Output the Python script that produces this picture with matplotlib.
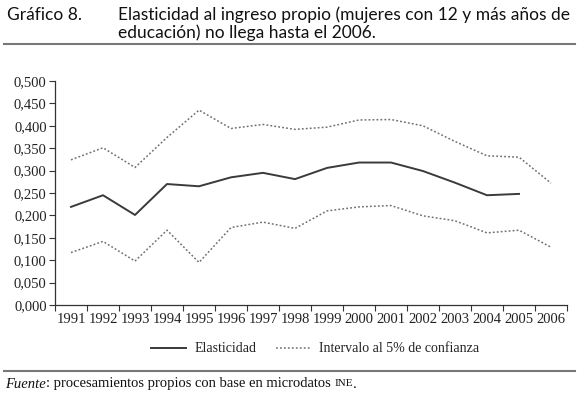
import numpy as np
import matplotlib
matplotlib.use("Agg")
import matplotlib.pyplot as plt
from matplotlib.lines import Line2D
from matplotlib.ticker import FixedLocator, FuncFormatter

years = [str(y) for y in range(1991, 2007)]
elasticidad = [0.219, 0.245, 0.201, 0.270, 0.265, 0.285, 0.295, 0.281,
               0.306, 0.318, 0.318, 0.299, 0.273, 0.245, 0.248, None]
superior = [0.324, 0.351, 0.307, 0.374, 0.435, 0.394, 0.403, 0.392,
            0.397, 0.413, 0.414, 0.400, 0.365, 0.333, 0.330, 0.272]
inferior = [0.117, 0.142, 0.098, 0.167, 0.095, 0.173, 0.185, 0.171,
            0.210, 0.219, 0.222, 0.199, 0.188, 0.161, 0.167, 0.129]

serif = "Liberation Serif"
sans = "Lato"

fig = plt.figure(figsize=(5.79, 3.96), dpi=100)
ax = fig.add_axes([55 / 579, 1 - 305 / 396, 512 / 579, 224 / 396])

x = np.arange(len(years))
elas = np.array([np.nan if v is None else v for v in elasticidad])
ax.plot(x, elas, color="#3a3a3a", lw=1.4, label="Elasticidad")
ax.plot(x, superior, color="#707070", lw=1.1, ls=(0, (1.2, 1.4)),
        label="Intervalo al 5% de confianza")
ax.plot(x, inferior, color="#707070", lw=1.1, ls=(0, (1.2, 1.4)))

ax.set_xlim(-0.5, len(years) - 0.5)
ax.set_ylim(0, 0.5)
ax.xaxis.set_major_locator(FixedLocator(np.arange(-0.5, len(years), 1.0)))
ax.xaxis.set_major_formatter(FuncFormatter(lambda v, p: ""))
ax.xaxis.set_minor_locator(FixedLocator(x))
ax.set_xticklabels(years, minor=True)
ax.tick_params(axis="x", which="major", length=4, width=0.8, color="#333333", direction="out")
ax.tick_params(axis="x", which="minor", length=0, pad=6, labelsize=10.5)
ax.set_yticks(np.arange(0, 0.501, 0.05))
ax.yaxis.set_major_formatter(FuncFormatter(lambda v, p: f"{v:.3f}".replace(".", ",")))
ax.tick_params(axis="y", length=4, width=0.8, color="#333333", labelsize=10.5, pad=2)
for lab in ax.get_xticklabels(minor=True) + ax.get_yticklabels():
    lab.set_fontfamily(serif)
    lab.set_color("#222222")
ax.spines[["top", "right"]].set_visible(False)
for s in ["left", "bottom"]:
    ax.spines[s].set_color("#333333")
    ax.spines[s].set_linewidth(0.9)

leg = fig.legend(loc="center", bbox_to_anchor=(315 / 579, 1 - 349 / 396), ncol=2,
                 frameon=False, prop={"family": serif, "size": 10},
                 handlelength=2.5, columnspacing=1.4, handletextpad=0.6)
for t in leg.get_texts():
    t.set_color("#222222")

# header
fig.text(7 / 579, 1 - 15 / 396, "Gráfico 8.", family=sans, fontsize=12.5, va="center", color="#111111")
fig.text(118 / 579, 1 - 15 / 396, "Elasticidad al ingreso propio (mujeres con 12 y más años de",
         family=sans, fontsize=12.5, va="center", color="#111111")
fig.text(118 / 579, 1 - 33 / 396, "educación) no llega hasta el 2006.",
         family=sans, fontsize=12.5, va="center", color="#111111")
fig.add_artist(Line2D([4 / 579, 575 / 579], [1 - 44 / 396] * 2, transform=fig.transFigure,
                      color="#777777", lw=1.5))
fig.add_artist(Line2D([4 / 579, 575 / 579], [1 - 371 / 396] * 2, transform=fig.transFigure,
                      color="#777777", lw=1.5))

# footer
fig.canvas.draw()
r = fig.canvas.get_renderer()
t1 = fig.text(5 / 579, 1 - 384 / 396, "Fuente", family=serif, style="italic", fontsize=10.5,
              va="center", color="#111111")
w1 = t1.get_window_extent(r).width
t2 = fig.text((5 + w1) / 579, 1 - 384 / 396, ": procesamientos propios con base en microdatos ",
              family=serif, fontsize=10.5, va="center", color="#111111")
w2 = t2.get_window_extent(r).width
t3 = fig.text((5 + w1 + w2) / 579, 1 - 384 / 396, "INE", family=serif, fontsize=8,
              va="center", color="#111111")
w3 = t3.get_window_extent(r).width
fig.text((5 + w1 + w2 + w3) / 579, 1 - 384 / 396, ".", family=serif, fontsize=10.5,
         va="center", color="#111111")

fig.savefig("out.png", dpi=100)
